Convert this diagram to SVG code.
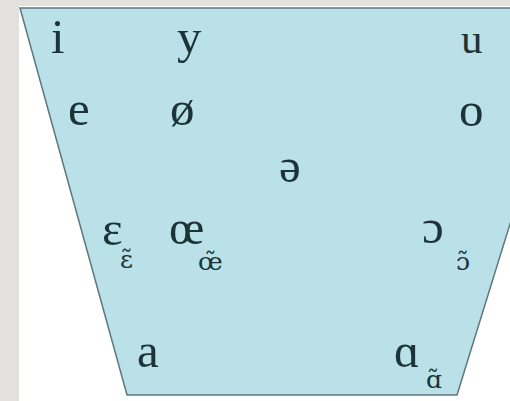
<svg xmlns="http://www.w3.org/2000/svg" width="510" height="401" viewBox="0 0 510 401">
<style>
.v{font-family:"Liberation Serif","DejaVu Serif",serif;font-size:49px;fill:#1c3338}
.s{font-family:"DejaVu Serif","Liberation Serif",serif;font-size:25px;fill:#1c3338}
</style>
<rect x="0" y="0" width="510" height="401" fill="#e3e1dd"/>
<rect x="19" y="6" width="491" height="395" fill="#ffffff"/>
<polygon id="trapezoid" points="20,8 577,8 457,395 127,395" fill="#b9e1e7" stroke="#5f777c" stroke-width="1.5"/>
<g id="i"><text class="v" x="51" y="53">i</text></g>
<g id="y"><text class="v" x="177" y="53">y</text></g>
<g id="u"><text class="v" x="461" y="53" style="font-size:43px">u</text></g>
<g id="e"><text class="v" x="68" y="125">e</text></g>
<g id="oslash"><text class="v" x="170" y="125">ø</text></g>
<g id="o"><text class="v" x="459" y="126">o</text></g>
<g id="schwa"><text class="v" x="279" y="182">ə</text></g>
<g id="epsilon"><text class="v" x="102" y="245">ɛ</text><text class="s" x="120" y="268">ɛ̃</text></g>
<g id="oe"><text class="v" x="169" y="244">œ</text><text class="s" x="198" y="270">œ̃</text></g>
<g id="openo"><text class="v" x="422" y="243">ɔ</text><text class="s" x="456" y="270">ɔ̃</text></g>
<g id="a"><text class="v" x="137" y="367">a</text></g>
<g id="alpha"><text class="v" x="394" y="367">ɑ</text><text class="s" x="426" y="388">ɑ̃</text></g>
</svg>
